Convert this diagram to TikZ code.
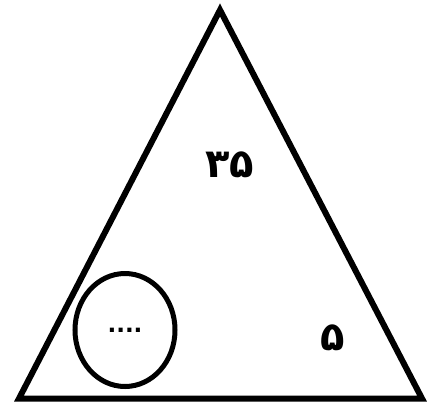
\documentclass[tikz,border=0pt]{standalone}
\usepackage{fontspec}
\newfontfamily\farsifont[Script=Arabic]{DejaVu Sans}
\usetikzlibrary{shapes.geometric}

\begin{document}
\begin{tikzpicture}[x=1pt,y=-1pt,line join=miter]
      \useasboundingbox (0,0) rectangle (433,405);
      % Corners of the triangle
      \coordinate (top) at (220,10);
      \coordinate (left) at (19,398.5);
      \coordinate (right) at (422,398.5);
      \draw[line width=6pt] (top) -- (left) -- (right) -- cycle;
      
      % Oval with dots and the numbers
      \node[ellipse,draw,line width=5pt,minimum width=100pt,minimum height=113pt,inner sep=0pt,font=\farsifont\bfseries\fontsize{23}{26}\selectfont] (oval) at (125,330) {\raisebox{-4pt}{....}};
      \node[font=\farsifont\bfseries\fontsize{40}{48}\selectfont] (big) at (230,165) {۳۵};
      \node[font=\farsifont\bfseries\fontsize{40}{48}\selectfont] (small) at (333,338) {۵};
    \end{tikzpicture}
\end{document}
